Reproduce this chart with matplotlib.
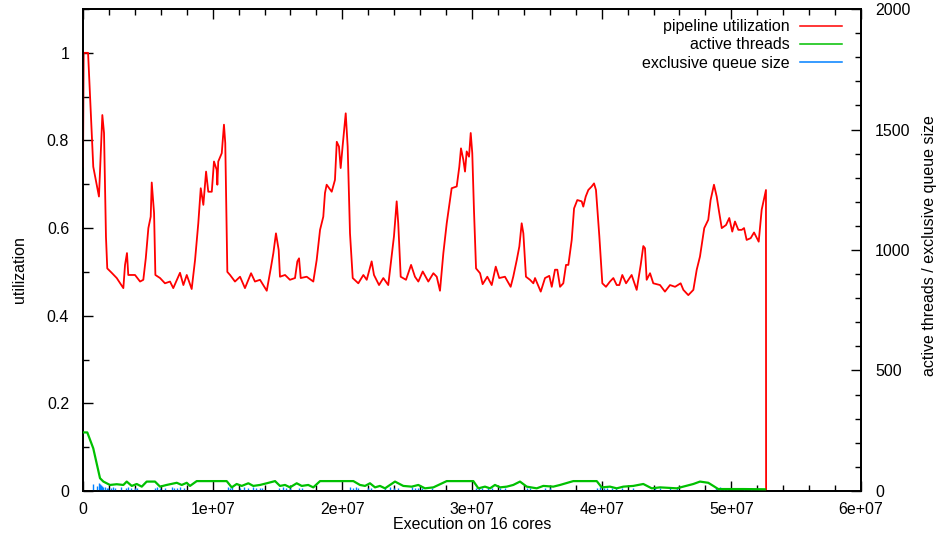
import numpy as np
import matplotlib
matplotlib.use('Agg')
import matplotlib.pyplot as plt
from matplotlib.ticker import MultipleLocator, FuncFormatter
from matplotlib.lines import Line2D

plt.rcParams['font.family'] = ['Liberation Sans', 'DejaVu Sans']
plt.rcParams['font.size'] = 11.5

# pipeline utilization (x in millions of cycles)
util_x = [0, 0.05, 0.39, 0.79, 1.23, 1.49, 1.62, 1.77, 1.87, 2.21, 2.60, 3.11, 3.24, 3.39, 3.49,
          4.01, 4.40, 4.65, 4.84, 5.04, 5.22, 5.30, 5.48, 5.58, 5.94, 6.32, 6.71, 6.96, 7.48,
          7.74, 8.00, 8.38, 8.64, 8.89, 9.08, 9.28, 9.49, 9.66, 9.93, 10.10, 10.31, 10.36, 10.43,
          10.70, 10.87, 10.97, 11.13, 11.34, 11.72, 12.11, 12.49, 12.96, 13.26, 13.65, 14.17,
          14.48, 14.68, 14.88, 15.09, 15.19, 15.58, 15.96, 16.35, 16.53, 16.66, 16.79, 17.25,
          17.76, 18.02, 18.28, 18.53, 18.66, 18.79, 19.18, 19.43, 19.57, 19.74, 19.87, 20.03,
          20.26, 20.41, 20.59, 20.80, 21.23, 21.62, 21.88, 22.26, 22.44, 22.83, 23.16, 23.54,
          23.81, 23.98, 24.19, 24.31, 24.50, 24.91, 25.30, 25.60, 25.86, 26.20, 26.63, 27.02,
          27.28, 27.53, 27.79, 28.05, 28.23, 28.43, 28.82, 29.02, 29.15, 29.33, 29.46, 29.59,
          29.77, 29.90, 30.02, 30.15, 30.31, 30.62, 30.82, 31.18, 31.52, 31.83, 32.10, 32.54,
          32.98, 33.18, 33.45, 33.65, 33.83, 33.96, 34.16, 34.47, 34.73, 34.86, 35.30, 35.63,
          35.96, 36.15, 36.40, 36.58, 36.79, 37.04, 37.25, 37.43, 37.69, 37.87, 38.12, 38.46,
          38.58, 38.77, 38.97, 39.23, 39.41, 39.56, 39.82, 40.05, 40.33, 40.64, 40.90, 41.16,
          41.36, 41.59, 41.88, 42.31, 42.70, 43.01, 43.21, 43.34, 43.47, 43.73, 43.98, 44.50,
          44.88, 45.27, 45.66, 46.09, 46.30, 46.68, 47.07, 47.33, 47.58, 47.91, 48.22, 48.40,
          48.66, 48.87, 49.05, 49.26, 49.59, 49.84, 50.07, 50.28, 50.54, 50.80, 50.98, 51.18,
          51.49, 51.75, 52.11, 52.34, 52.67, 52.68]
util_y = [0.74, 1.0, 1.0, 0.74, 0.672, 0.858, 0.817, 0.58, 0.508, 0.498, 0.486, 0.463, 0.516, 0.543, 0.493,
          0.493, 0.478, 0.482, 0.531, 0.60, 0.626, 0.704, 0.634, 0.493, 0.486, 0.474, 0.478, 0.463, 0.498,
          0.47, 0.493, 0.461, 0.527, 0.611, 0.691, 0.653, 0.729, 0.683, 0.683, 0.752, 0.733, 0.699, 0.752,
          0.771, 0.836, 0.794, 0.50, 0.493, 0.478, 0.489, 0.463, 0.497, 0.478, 0.482, 0.457,
          0.508, 0.543, 0.588, 0.55, 0.489, 0.493, 0.482, 0.486, 0.524, 0.531, 0.486, 0.489,
          0.478, 0.527, 0.596, 0.626, 0.68, 0.699, 0.683, 0.71, 0.797, 0.786, 0.737, 0.79,
          0.862, 0.786, 0.588, 0.486, 0.474, 0.493, 0.482, 0.524, 0.493, 0.47, 0.486, 0.47,
          0.539, 0.581, 0.661, 0.611, 0.489, 0.482, 0.516, 0.489, 0.478, 0.501, 0.478, 0.497,
          0.489, 0.457, 0.543, 0.611, 0.649, 0.691, 0.695, 0.74, 0.782, 0.756, 0.729, 0.775,
          0.763, 0.817, 0.771, 0.642, 0.508, 0.497, 0.472, 0.489, 0.47, 0.512, 0.486, 0.489,
          0.466, 0.489, 0.527, 0.558, 0.611, 0.588, 0.489, 0.482, 0.474, 0.486, 0.455, 0.486,
          0.491, 0.466, 0.505, 0.505, 0.466, 0.474, 0.516, 0.516, 0.573, 0.645, 0.664, 0.661,
          0.649, 0.672, 0.687, 0.695, 0.702, 0.687, 0.581, 0.474, 0.466, 0.478, 0.486, 0.47,
          0.47, 0.493, 0.474, 0.493, 0.459, 0.516, 0.559, 0.554, 0.482, 0.497, 0.474, 0.47,
          0.455, 0.47, 0.466, 0.474, 0.459, 0.447, 0.459, 0.505, 0.535, 0.60, 0.619, 0.664,
          0.699, 0.672, 0.638, 0.60, 0.607, 0.623, 0.592, 0.615, 0.596, 0.596, 0.60, 0.573,
          0.577, 0.59, 0.569, 0.642, 0.687, 0.0]

# active threads
threads_x = [0, 0.33, 0.79, 1.31, 1.57, 2.08, 2.60, 3.11, 3.37, 3.76, 4.14, 4.53, 4.91, 5.55, 5.94,
             6.45, 7.23, 7.61, 8.00, 8.25, 8.77, 11.08, 11.47, 11.85, 12.24, 12.75, 13.13, 13.65,
             14.17, 14.81, 15.19, 15.58, 15.96, 16.48, 16.87, 17.37, 17.76, 18.28, 20.85, 21.36,
             21.75, 22.13, 22.52, 22.90, 23.29, 24.06, 24.70, 25.35, 25.86, 26.37, 27.02, 28.05,
             30.10, 30.49, 31.00, 31.39, 31.77, 32.16, 32.68, 33.18, 33.70, 34.22, 34.99, 35.50,
             36.27, 36.79, 37.81, 39.62, 40.00, 40.64, 41.16, 41.67, 42.44, 43.21, 43.86, 44.50,
             45.79, 47.07, 47.58, 48.22, 48.61, 48.99, 50.92, 52.59]
threads_y = [243, 243, 177, 53, 39, 25, 28, 25, 39, 21, 29, 18, 39, 39, 18,
             25, 34, 25, 34, 21, 41, 41, 15, 29, 21, 32, 21, 25,
             32, 41, 21, 25, 15, 32, 21, 25, 15, 41, 41, 25,
             21, 32, 15, 21, 11, 39, 21, 18, 25, 11, 15, 41,
             41, 11, 18, 11, 25, 15, 18, 25, 39, 18, 11, 21,
             18, 25, 41, 41, 15, 18, 11, 18, 21, 29, 11, 15,
             11, 29, 39, 34, 21, 8, 8, 7]

# exclusive queue size
queue_x = [0.77, 1.08, 1.20, 1.31, 1.39, 1.47, 1.54, 1.70, 1.85, 1.93, 2.16, 2.31, 2.47, 2.93, 3.32,
           3.47, 3.70, 4.01, 4.16, 5.55, 5.71, 5.94, 6.32, 6.86, 7.02, 7.25, 7.48, 7.79, 11.18,
           11.34, 11.49, 12.11, 12.42, 12.72, 13.11, 13.34, 13.65, 13.80, 15.12, 15.42, 15.66,
           15.96, 16.66, 16.89, 20.59, 20.82, 21.05, 21.21, 21.98, 22.21, 23.29, 23.68, 23.98,
           24.29, 25.37, 25.60, 25.83, 26.14, 26.91, 30.31, 30.54, 30.77, 31.23, 31.54, 32.16,
           32.54, 34.24, 34.47, 35.63, 36.01, 39.64, 39.87, 40.18, 40.41, 40.80, 41.10, 41.57,
           42.41, 44.11, 44.50, 45.27, 45.79, 48.80, 49.10, 49.46, 49.69, 51.00, 51.54]
queue_y = [30, 20, 33, 30, 25, 22, 18, 15, 12, 14, 12, 15, 11, 15, 11,
           15, 11, 11, 11, 11, 15, 11, 11, 15, 11, 11, 15, 11, 15,
           11, 15, 11, 15, 11, 15, 11, 11, 11, 11, 15, 11,
           11, 11, 11, 15, 11, 15, 11, 11, 11, 11, 15, 11,
           11, 15, 11, 11, 11, 11, 11, 15, 11, 11, 11, 11,
           11, 11, 11, 11, 11, 11, 15, 11, 11, 11, 11, 11,
           11, 11, 11, 11, 11, 11, 15, 11, 11, 11, 11]

RED = '#ff0000'
GREEN = '#00c000'
BLUE = '#0080ff'

fig = plt.figure(figsize=(9.37, 5.37), dpi=100)
ax = fig.add_axes([0.0886, 0.0857, 0.8303, 0.8975])
ax2 = ax.twinx()

ax.plot(np.array(util_x) * 1e6, util_y, color=RED, linewidth=1.3, zorder=3)
ax2.vlines(np.array(queue_x) * 1e6, 0, queue_y, color=BLUE, linewidth=1.0, zorder=2)
ax2.plot(np.array(threads_x) * 1e6, threads_y, color=GREEN, linewidth=1.6, zorder=3)

ax.set_xlim(0, 6e7)
ax.set_ylim(0, 1.1)
ax2.set_ylim(0, 2000)

ax.xaxis.set_major_locator(MultipleLocator(1e7))
ax.xaxis.set_minor_locator(MultipleLocator(2e6))
ax.yaxis.set_major_locator(MultipleLocator(0.2))
ax.yaxis.set_minor_locator(MultipleLocator(0.1))
ax2.yaxis.set_major_locator(MultipleLocator(500))
ax2.yaxis.set_minor_locator(MultipleLocator(100))

ax.xaxis.set_major_formatter(FuncFormatter(lambda v, p: '0' if v == 0 else '%.0e' % v))
ax.yaxis.set_major_formatter(FuncFormatter(lambda v, p: '%g' % round(v, 2)))

ax.tick_params(axis='x', which='both', direction='in', top=True, bottom=True)
ax.tick_params(axis='y', which='both', direction='in', left=True, right=False)
ax.tick_params(axis='x', which='major', length=7, width=1, pad=8, labelsize=11.5)
ax.tick_params(axis='y', which='major', length=7, width=1, pad=10, labelsize=11.5)
ax.tick_params(which='minor', length=4, width=1)
ax2.tick_params(axis='y', which='both', direction='in')
ax2.tick_params(which='major', length=7, width=1, pad=10, labelsize=11.5)
ax2.tick_params(which='minor', length=4, width=1)

for a in (ax, ax2):
    for s in a.spines.values():
        s.set_linewidth(1.3)

ax.set_xlabel('Execution on 16 cores', labelpad=0)
ax.set_ylabel('utilization')
ax2.set_ylabel('active threads / exclusive queue size')
ax.yaxis.set_label_coords(-0.072, 0.4585)
ax2.yaxis.set_label_coords(1.079, 0.51)

handles = [Line2D([], [], color=RED, linewidth=1.1),
           Line2D([], [], color=GREEN, linewidth=1.1),
           Line2D([], [], color=BLUE, linewidth=1.1)]
labels = ['pipeline utilization', 'active threads', 'exclusive queue size']
ax2.legend(handles, labels, loc='upper right', bbox_to_anchor=(0.9756, 0.979),
           frameon=False, markerfirst=False, borderpad=0, borderaxespad=0,
           handlelength=2.6, handletextpad=0.7, labelspacing=0.2, fontsize=11.5)

fig.savefig('out.png', dpi=100)
